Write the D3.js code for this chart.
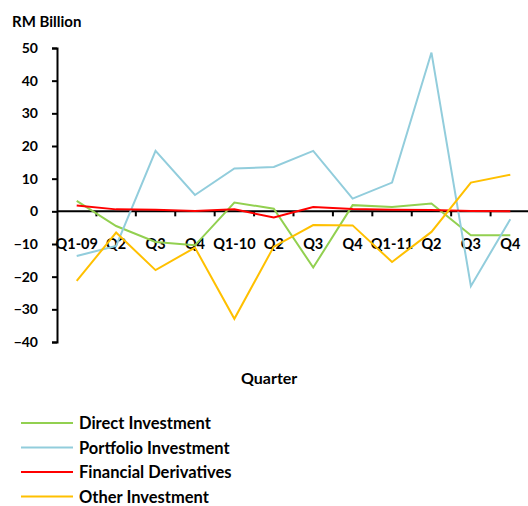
<!DOCTYPE html>
<html>
<head>
<meta charset="utf-8">
<script src="https://cdn.jsdelivr.net/npm/d3@7"></script>
<style>
  body { margin: 0; background: #fff; }
  text { font-family: Lato, "DejaVu Sans", sans-serif; font-weight: bold; fill: #000; }
</style>
</head>
<body>
<svg id="chart" width="528" height="506"></svg>
<script>
// Data (RM billion, quarterly)
const quarters = ["Q1-09", "Q2", "Q3", "Q4", "Q1-10", "Q2", "Q3", "Q4", "Q1-11", "Q2", "Q3", "Q4"]
const directInvestment = [3.2, -4.5, -9.4, -10.4, 2.7, 0.8, -17.2, 1.9, 1.3, 2.4, -7.3, -7.3]
const portfolioInvestment = [-13.7, -10.6, 18.5, 5.0, 13.1, 13.6, 18.5, 3.9, 8.8, 48.6, -22.9, -2.4]
const financialDerivatives = [1.8, 0.6, 0.5, 0.1, 0.6, -1.9, 1.3, 0.7, 0.5, 0.4, 0.1, 0.0]
const otherInvestment = [-21.3, -6.5, -18.0, -11.1, -32.9, -10.8, -4.2, -4.3, -15.5, -6.3, 8.8, 11.2]
const yTicks = [-40, -30, -20, -10, 0, 10, 20, 30, 40, 50]

const series = [
    {name: "Direct Investment", values: directInvestment, color: "#92D050"},
    {name: "Portfolio Investment", values: portfolioInvestment, color: "#92CDDC"},
    {name: "Financial Derivatives", values: financialDerivatives, color: "#FF0000"},
    {name: "Other Investment", values: otherInvestment, color: "#FFC000"},
]

const svg = d3.select("#chart")

const x = d3.scaleBand()
    .domain(d3.range(quarters.length))
    .range([57, 530])
    .padding(0)
const y = d3.scaleLinear().domain([-40, 50]).range([342, 48])
const cx = i => x(i) + x.bandwidth() / 2

// y axis
const yAxis = svg.append("g")
    .attr("transform", "translate(57,0)")
    .call(d3.axisLeft(y).tickValues(yTicks).tickSize(5).tickPadding(14))
yAxis.select(".domain").attr("stroke-width", 2)
yAxis.selectAll(".tick line").attr("stroke-width", 2)
yAxis.selectAll(".tick text").style("font-size", "14px")

// x axis at zero, ticks between categories
const xAxis = svg.append("g").attr("transform", `translate(0,${y(0)})`)
xAxis.append("line")
    .attr("x1", 57).attr("x2", 530)
    .attr("stroke", "#000").attr("stroke-width", 2)
xAxis.selectAll(".xtick")
    .data(d3.range(1, quarters.length))
    .enter().append("line")
    .attr("x1", d => x(d)).attr("x2", d => x(d))
    .attr("y1", 0).attr("y2", 5)
    .attr("stroke", "#000").attr("stroke-width", 2)
xAxis.selectAll(".xlabel")
    .data(quarters)
    .enter().append("text")
    .attr("x", (d, i) => cx(i))
    .attr("y", 38)
    .attr("text-anchor", "middle")
    .style("font-size", "14.5px")
    .text(d => d)

// lines
const line = d3.line().x((d, i) => cx(i)).y(d => y(d))
svg.selectAll(".series")
    .data(series)
    .enter().append("path")
    .attr("d", d => line(d.values))
    .attr("fill", "none")
    .attr("stroke", d => d.color)
    .attr("stroke-width", 2)
    .attr("stroke-linejoin", "miter")

// titles
svg.append("text").attr("x", 12).attr("y", 27).style("font-size", "15px").text("RM Billion")
svg.append("text").attr("x", 241).attr("y", 384).style("font-size", "16px").text("Quarter")

// legend
const legend = svg.selectAll(".legend")
    .data(series)
    .enter().append("g")
    .attr("transform", (d, i) => `translate(0,${423 + i * 24.5})`)
legend.append("line")
    .attr("x1", 21).attr("x2", 73)
    .attr("stroke", d => d.color).attr("stroke-width", 2)
legend.append("text")
    .attr("x", 79).attr("y", 6)
    .style("font-size", "16.5px")
    .text(d => d.name)
</script>
</body>
</html>
